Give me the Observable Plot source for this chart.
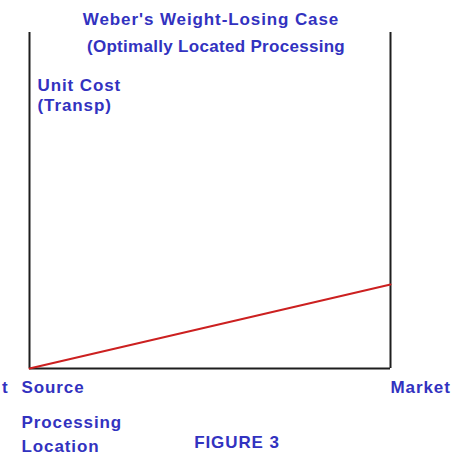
<!DOCTYPE html>
<html>
<head>
<meta charset="utf-8">
<script src="https://cdn.jsdelivr.net/npm/d3@7"></script>
<script src="https://cdn.jsdelivr.net/npm/@observablehq/plot@0.6"></script>
<style>
  html, body { margin: 0; padding: 0; background: #ffffff; }
  .ls-wide text { letter-spacing: 0.9px; }
  .ls-narrow text { letter-spacing: 0.3px; }
</style>
</head>
<body>
<div id="chart"></div>
<script>
// ---- data ----
const locations = [0, 1];                 // processing location: source -> market
const locationLabels = ["Source", "Market"];
const transportCost = [0, 0.25];          // unit transport cost
const titleLines = ["Weber's Weight-Losing Case", "(Optimally Located Processing"];
const yLabelLines = ["Unit Cost", "(Transp)"];
const xLabelLines = ["Processing", "Location"];
const leftFragment = ["t"];
const figureLabel = ["FIGURE 3"];

const costData = locations.map((x, i) => ({x, cost: transportCost[i], label: locationLabels[i]}));

const blue = "#3232c0";
const font = { fontSize: 17, fontWeight: "bold", fill: blue, lineAnchor: "top", className: "ls-wide" };

const chart = Plot.plot({
  width: 456,
  height: 457,
  marginLeft: 29,
  marginRight: 66,
  marginTop: 32,
  marginBottom: 89,
  style: "font-family: 'Liberation Sans', Arial, Helvetica, sans-serif; background: #ffffff;",
  x: { domain: [0, 1], axis: null },
  y: { domain: [0, 1], axis: null },
  marks: [
    Plot.ruleX(locations, { stroke: "#1e1e1e", strokeWidth: 2 }),
    Plot.ruleY([0], { stroke: "#1e1e1e", strokeWidth: 2 }),
    Plot.line(costData, { x: "x", y: "cost", stroke: "#cc2020", strokeWidth: 2 }),
    // title
    Plot.text([titleLines[0]], { ...font, frameAnchor: "top", dx: 1, dy: -19.5 }),
    Plot.text([titleLines[1]], { ...font, className: "ls-narrow", frameAnchor: "top", dx: 6, dy: 7 }),
    // y label
    Plot.text([yLabelLines[0]], { ...font, frameAnchor: "top-left", textAnchor: "start", dx: 8, dy: 46 }),
    Plot.text([yLabelLines[1]], { ...font, frameAnchor: "top-left", textAnchor: "start", dx: 8, dy: 66 }),
    // x tick labels
    Plot.text([locationLabels[0]], { ...font, frameAnchor: "bottom-left", textAnchor: "start", dx: -8, dy: 12 }),
    Plot.text([locationLabels[1]], { ...font, frameAnchor: "bottom-right", textAnchor: "start", dx: 0, dy: 12 }),
    Plot.text(leftFragment, { ...font, frameAnchor: "bottom-left", textAnchor: "end", dx: -21, dy: 12 }),
    // x label
    Plot.text([xLabelLines[0]], { ...font, frameAnchor: "bottom-left", textAnchor: "start", dx: -8, dy: 47 }),
    Plot.text([xLabelLines[1]], { ...font, frameAnchor: "bottom-left", textAnchor: "start", dx: -8, dy: 71 }),
    // figure label
    Plot.text(figureLabel, { ...font, frameAnchor: "bottom", textAnchor: "middle", dx: 27, dy: 67 })
  ]
});

document.getElementById("chart").appendChild(chart);
</script>
</body>
</html>
